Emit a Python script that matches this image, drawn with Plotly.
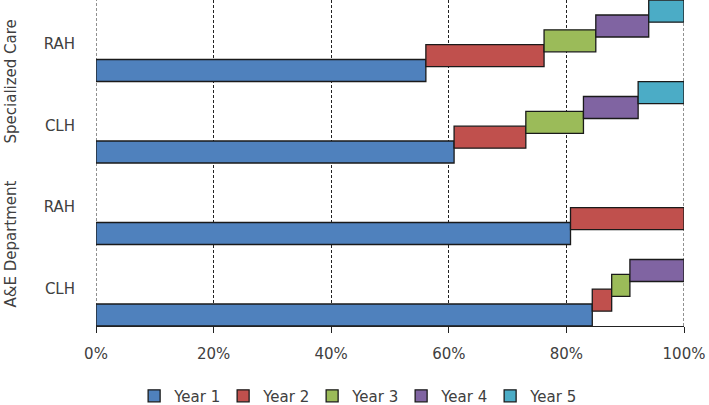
import plotly.graph_objects as go

# Categories from bottom to top
groups = ["A&E Department", "A&E Department", "Specialized Care", "Specialized Care"]
hospitals = ["CLH", "RAH", "CLH", "RAH"]
series_names = ["Year 1", "Year 2", "Year 3", "Year 4", "Year 5"]
year1 = [84.4, 80.7, 60.9, 56.1]
year2 = [3.3, 19.3, 12.2, 20.1]
year3 = [3.1, None, 9.8, 8.8]
year4 = [9.2, None, 9.3, 9.0]
year5 = [None, None, 7.8, 6.0]
colors = ["#4F81BD", "#C0504D", "#9BBB59", "#8064A2", "#4BACC6"]
x_ticks = [0, 20, 40, 60, 80, 100]
x_tick_labels = ["0%", "20%", "40%", "60%", "80%", "100%"]

series = [year1, year2, year3, year4, year5]
FONT = "DejaVu Sans"
TXT = "#404040"
BAR_H = 0.27
STEP = 0.182

fig = go.Figure()
cum = [0.0] * len(hospitals)
for k, (name, vals) in enumerate(zip(series_names, series)):
    bases = list(cum)
    ys = [i + BAR_H / 2 + k * STEP for i in range(len(hospitals))]
    fig.add_trace(go.Bar(
        name=name, orientation="h", x=vals, base=bases, y=ys, width=BAR_H,
        marker=dict(color=colors[k], line=dict(color="#1a1a1a", width=1.3)),
    ))
    cum = [c + (v or 0) for c, v in zip(cum, vals)]

# group labels
group_names = ["A&E Department", "Specialized Care"]
for gi, g in enumerate(group_names):
    fig.add_annotation(text=g, xref="paper", x=0, xshift=-86, xanchor="center",
                       y=gi * 2 + 1, yref="y", yanchor="middle", textangle=-90,
                       showarrow=False, font=dict(family=FONT, size=15, color=TXT))

# edge gridlines (plotly omits gridlines at the range ends)
for xv in (x_ticks[0], x_ticks[-1]):
    fig.add_shape(type="line", xref="x", yref="paper", x0=xv, x1=xv, y0=0, y1=1,
                  line=dict(color="#222222", width=1, dash="3px,2px"), layer="below")

fig.update_layout(
    width=709, height=405,
    margin=dict(l=96, r=25, t=0, b=79),
    plot_bgcolor="white", paper_bgcolor="white",
    barmode="overlay",
    showlegend=True,
    legend=dict(orientation="h", xref="container", x=0.503, xanchor="center",
                yref="container", y=0.022, yanchor="middle",
                entrywidth=44, entrywidthmode="pixels", itemwidth=30,
                font=dict(family=FONT, size=15, color=TXT), traceorder="normal"),
    font=dict(family=FONT, size=15, color=TXT),
)
fig.update_xaxes(range=[0, 100], tickvals=x_ticks, ticktext=x_tick_labels,
                 showgrid=True, gridcolor="#222222", gridwidth=1, griddash="3px,2px",
                 zeroline=False, showline=True, linecolor="#222222", linewidth=1,
                 ticks="outside", ticklen=6, tickcolor="#222222", ticklabelstandoff=8,
                 tickfont=dict(family=FONT, size=15, color=TXT))
fig.update_yaxes(range=[0, 4], tickvals=[i + 0.46 for i in range(len(hospitals))],
                 ticktext=hospitals, showgrid=False, zeroline=False, showline=False,
                 ticks="", ticklabelstandoff=20,
                 tickfont=dict(family=FONT, size=15, color=TXT))

fig.write_html("out.html", config={"displayModeBar": False},
               post_script="document.body.style.margin='0';document.body.style.overflow='hidden';")
